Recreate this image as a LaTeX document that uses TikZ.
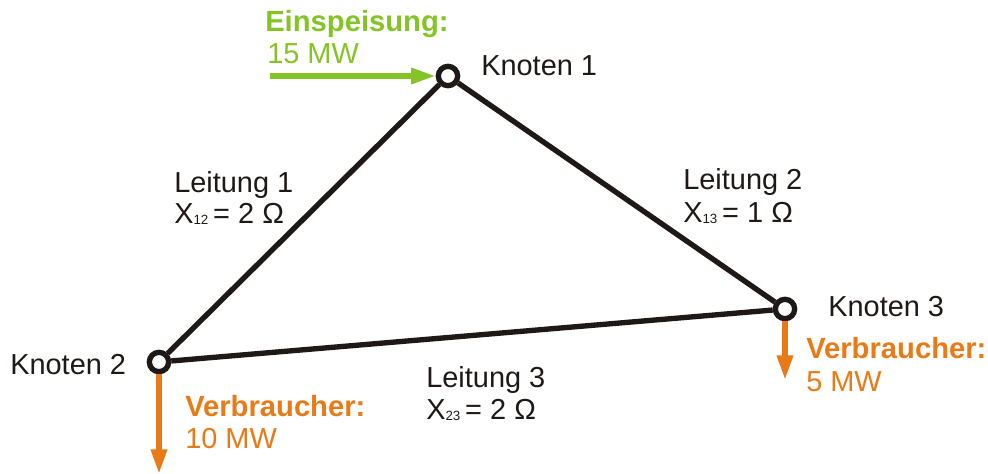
\documentclass[tikz,border=0pt]{standalone}
\usepackage{fontspec}
\setmainfont{Liberation Sans}
\usetikzlibrary{arrows.meta,backgrounds}
\definecolor{lgreen}{RGB}{133,196,38}
\definecolor{lorange}{RGB}{232,122,24}
\definecolor{lblack}{RGB}{30,25,22}
\newcommand{\subx}[1]{\raisebox{-1pt}{\fontsize{10}{10}\selectfont #1}}
\tikzset{
  x=0.75pt,y=-0.75pt,
  bus/.style={circle,draw=lblack,fill=white,line width=4pt,minimum size=14.5pt,inner sep=0pt},
  wire/.style={draw=lblack,line width=4pt},
  flow/.style={line width=4.2pt,-{Triangle[length=18.5pt,width=11.5pt]}},
  txt/.style={anchor=base west,inner sep=0pt,font=\fontsize{21.7}{24}\selectfont,text=lblack},
  htxt/.style={txt,font=\fontsize{21.9}{24}\selectfont\bfseries},
}
\begin{document}
\begin{tikzpicture}
\useasboundingbox (0,0) rectangle (988,474);
\coordinate (gs) at (270,76);
\coordinate (o2) at (159,474);
\coordinate (o3) at (785,380);
\node[bus] (n1) at (448,76) {};
\node[bus] (n2) at (159,362) {};
\node[bus] (n3) at (785,309) {};
\begin{scope}[on background layer]
\draw[wire] (n1) -- (n2);
\draw[wire] (n1) -- (n3);
\draw[wire] (n2) -- (n3);
\end{scope}
\draw[flow,draw=lgreen,fill=lgreen] (gs) -- (n1.west);
\draw[flow,draw=lorange,fill=lorange] (n2.south) -- (o2);
\draw[flow,draw=lorange,fill=lorange] (n3.south) -- (o3);
\node[htxt,text=lgreen] (t1) at (265,32) {Einspeisung:};
\node[txt,text=lgreen] (t2) at (267,64) {15 MW};
\node[txt] (k1) at (481,76) {Knoten 1};
\node[txt] (k2) at (10,374) {Knoten 2};
\node[txt] (k3) at (828,316) {Knoten 3};
\node[txt] (l1) at (174,192) {Leitung 1};
\node[txt] (x1) at (174,223) {X\subx{12}\,= 2 Ω};
\node[txt] (l2) at (683,190) {Leitung 2};
\node[txt] (x2) at (683,222) {X\subx{13}\,= 1 Ω};
\node[txt] (l3) at (426,387) {Leitung 3};
\node[txt] (x3) at (426,419) {X\subx{23}\,= 2 Ω};
\node[htxt,text=lorange] (v3) at (806,358) {Verbraucher:};
\node[txt,text=lorange] (m3) at (806,391) {5 MW};
\node[htxt,text=lorange] (v2) at (185,416) {Verbraucher:};
\node[txt,text=lorange] (m2) at (185,448) {10 MW};
\end{tikzpicture}
\end{document}
